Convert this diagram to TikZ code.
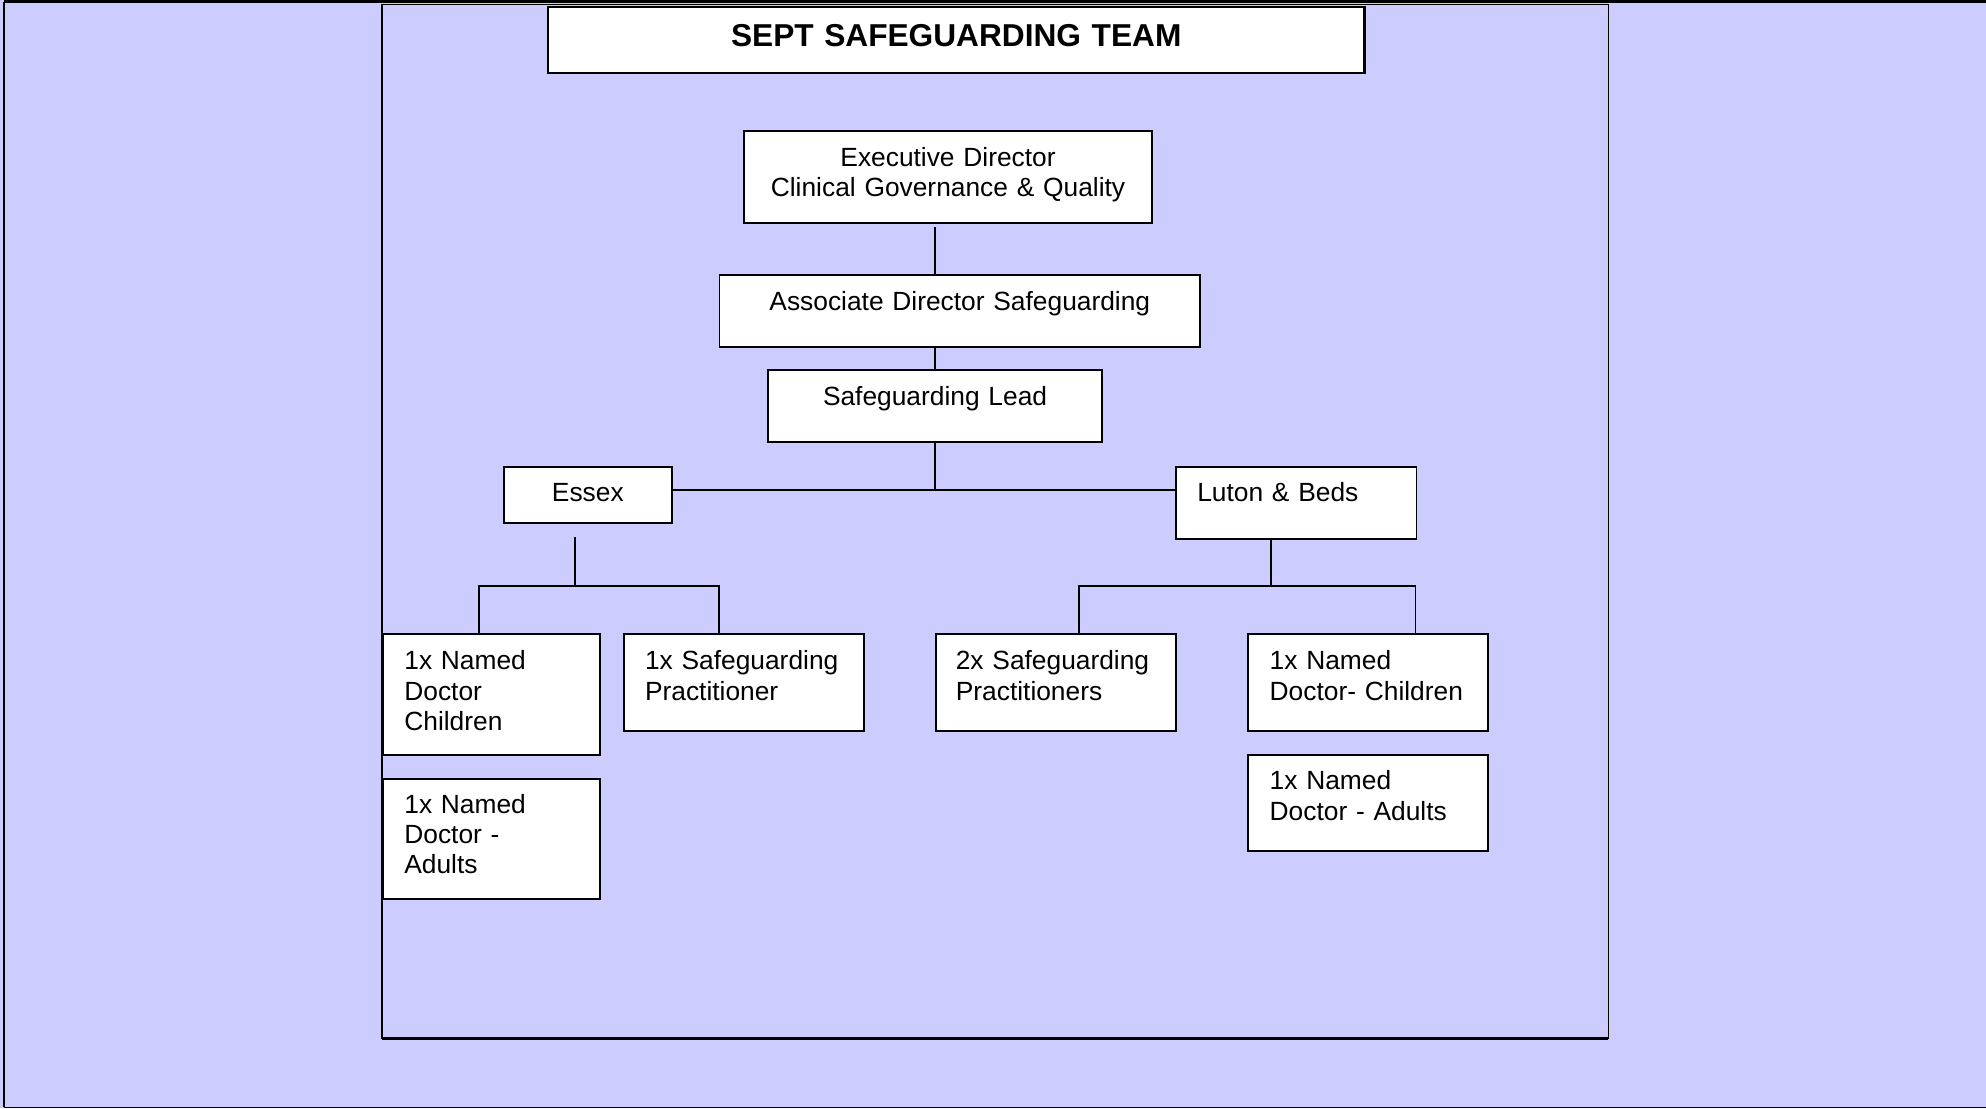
\documentclass[tikz,border=0pt]{standalone}
\usepackage{fontspec}
\setmainfont{Liberation Sans}
\definecolor{lav}{RGB}{204,204,255}
\newcommand\fbody{\fontsize{20.8bp}{23.8bp}\selectfont}
\newcommand\ftitle{\fontsize{25bp}{30bp}\selectfont\bfseries}
\tikzset{
  box/.style={draw=black, fill=white, line width=1.5bp, inner ysep=0pt, font=\fbody, anchor=north west},
  cbox/.style={box, align=center, inner xsep=0pt},
  lbox/.style={box, align=left, inner xsep=16.8bp},
  link/.style={draw=black, line width=1.4bp}
}
\begin{document}
\begin{tikzpicture}[x=1bp, y=-1bp]
\useasboundingbox (0,0) rectangle (1568,875);
\fill[lav] (0,0) rectangle (1568,875);
% outer page frame
\draw[line width=1.2bp] (3,874.2) -- (3,1.5);
\draw[line width=2.4bp] (3,1.2) -- (1568,1.2);
\draw[line width=1.2bp] (3,874.2) -- (1568,874.2);
% inner frame
\draw[line width=1.2bp, fill=lav] (301.5,3.5) rectangle (1269.8,819.5);
\draw[line width=2.4bp] (301.5,819.8) -- (1269.8,819.8);

% title
\node[cbox, line width=1.7bp, font=\ftitle, text width=644.6bp, text height=31bp, text depth=21.5bp] (title) at (431.8,4.5) {SEPT SAFEGUARDING TEAM};

% hierarchy
\node[cbox, text width=322.5bp, text height=28.2bp, text depth=44.2bp] (ed) at (586.5,102.6) {Executive Director\\Clinical Governance \& Quality};
\node[cbox, text width=379.5bp, text height=27.7bp, text depth=28.9bp] (ad) at (567.3,216.3) {Associate Director Safeguarding};
\node[cbox, text width=264.2bp, text height=27.6bp, text depth=29.1bp] (sl) at (605.4,291.6) {Safeguarding Lead};
\node[cbox, text width=132.9bp, text height=27.6bp, text depth=16.6bp] (es) at (396.9,367.7) {Essex};
\node[lbox, text width=156.3bp, text height=27.6bp, text depth=29.2bp] (lu) at (927.7,367.7) {Luton \& Beds};

\node[lbox, text width=137.4bp, text height=28.2bp, text depth=66.8bp] (n1) at (301.7,500) {1x Named\\Doctor\\Children};
\node[lbox, text width=156bp, text height=28.2bp, text depth=48.2bp] (s1) at (491.7,500) {1x Safeguarding\\Practitioner};
\node[lbox, text width=137.4bp, text height=27.6bp, text depth=67.1bp] (n2) at (301.7,614) {1x Named\\Doctor -\\Adults};
\node[lbox, inner xsep=15.9bp, text width=157.9bp, text height=28.2bp, text depth=48.4bp] (p2) at (738,500) {2x Safeguarding\\Practitioners};
\node[lbox, inner xsep=17.2bp, text width=155.1bp, text height=28.2bp, text depth=48.2bp] (r1) at (984.5,500) {1x Named\\Doctor- Children};
\node[lbox, inner xsep=17.2bp, text width=155.1bp, text height=27.9bp, text depth=48.1bp] (r2) at (984.5,595) {1x Named\\Doctor - Adults};

% junction points
\coordinate (j1) at (738.2,386.6);
\coordinate (eA) at (453.7,424.3);
\coordinate (eJ) at (453.7,462.4);
\coordinate (eL) at (378.3,462.4);
\coordinate (eR) at (567.5,462.4);
\coordinate (lJ) at (1003.5,462.4);
\coordinate (lL) at (852,462.4);
\coordinate (lR) at (1117.6,462.4);

% connectors
\draw[link] ([yshift=-3bp]ed.south -| j1) -- (ad.north -| j1);
\draw[link] (ad.south -| j1) -- (sl.north -| j1);
\draw[link] (sl.south -| j1) -- (j1);
\draw[link] (es.east |- j1) -- (lu.west |- j1);
\draw[link] (eA) -- (eJ);
\draw[link] (eL |- n1.north) -- (eL) -- (eR) -- (eR |- s1.north);
\draw[link] (lu.south -| lJ) -- (lJ);
\draw[link] (lL |- p2.north) -- (lL) -- (lR) -- (lR |- r1.north);
\end{tikzpicture}
\end{document}
